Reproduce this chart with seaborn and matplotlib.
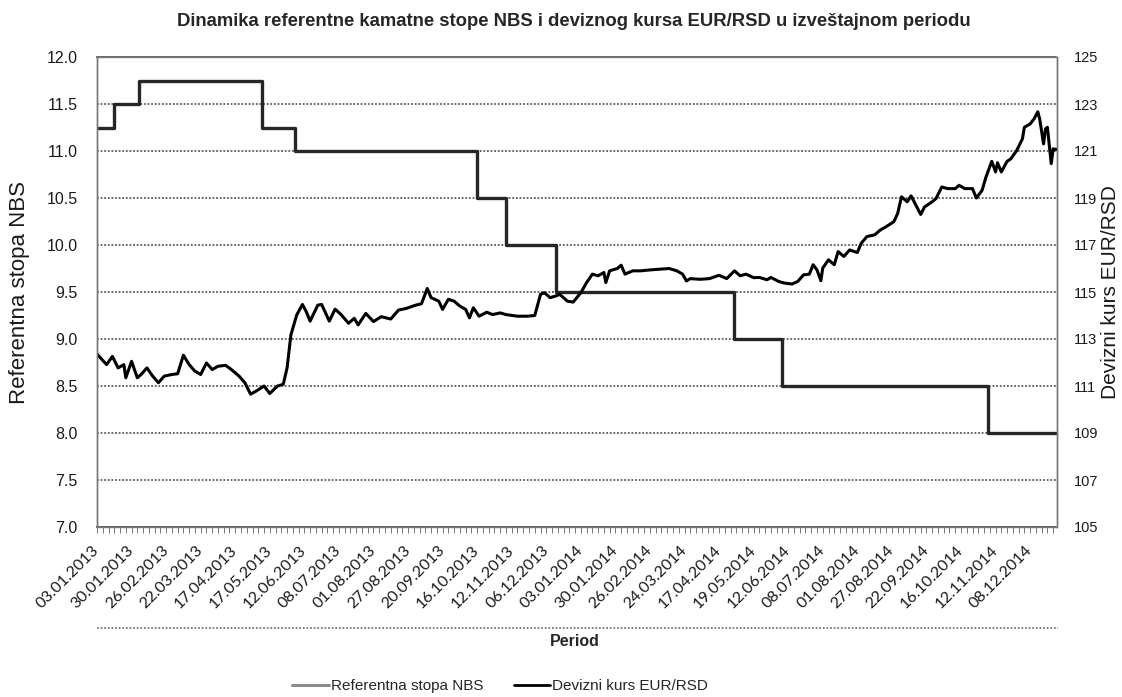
import numpy as np
import pandas as pd
import matplotlib.pyplot as plt
from matplotlib.lines import Line2D
from matplotlib.ticker import FixedLocator, MultipleLocator, FormatStrFormatter
import seaborn as sns

# x axis = trading day number, 0 = 03.01.2013, one label every 18 days
tick_labels = ['03.01.2013', '30.01.2013', '26.02.2013', '22.03.2013', '17.04.2013',
               '17.05.2013', '12.06.2013', '08.07.2013', '01.08.2013', '27.08.2013',
               '20.09.2013', '16.10.2013', '12.11.2013', '06.12.2013', '03.01.2014',
               '30.01.2014', '26.02.2014', '24.03.2014', '17.04.2014', '19.05.2014',
               '12.06.2014', '08.07.2014', '01.08.2014', '27.08.2014', '22.09.2014',
               '16.10.2014', '12.11.2014', '08.12.2014']
tick_days = list(range(0, 18 * len(tick_labels), 18))

# NBS key policy rate (%), value valid from the given trading day
rate_day = [0, 9, 22, 86, 103, 198, 213, 239, 332, 357, 464, 500]
rate_value = [11.25, 11.5, 11.75, 11.25, 11.0, 10.5, 10.0, 9.5, 9.0, 8.5, 8.0, 8.0]

# EUR/RSD exchange rate
fx_day = [0, 5, 8, 11, 14, 15, 18, 21, 23, 26, 29, 32, 35, 39, 42, 45, 48, 51, 54, 57,
          60, 63, 67, 70, 74, 77, 80, 83, 87, 90, 94, 97, 99, 101, 104, 107, 109, 111,
          115, 117, 121, 124, 127, 131, 134, 136, 140, 144, 148, 153, 157, 161, 166,
          169, 172, 174, 178, 180, 183, 186, 189, 192, 194, 196, 199, 203, 206, 210,
          213, 219, 224, 228, 231, 233, 236, 239, 241, 245, 248, 252, 255, 258, 261,
          264, 265, 267, 271, 273, 275, 279, 283, 288, 293, 298, 302, 305, 307, 309,
          314, 319, 324, 328, 332, 335, 338, 342, 345, 349, 351, 355, 358, 362, 365,
          368, 371, 373, 375, 377, 378, 381, 384, 386, 389, 392, 396, 398, 401, 405,
          408, 411, 415, 417, 419, 422, 424, 427, 429, 431, 435, 437, 440, 443, 447,
          449, 452, 456, 458, 461, 463, 466, 468, 469, 471, 474, 476, 479, 482, 483,
          486, 488, 490, 491, 493, 494, 495, 497, 498, 500]
fx_value = [112.36, 111.91, 112.26, 111.77, 111.91, 111.35, 112.05, 111.35, 111.49, 111.77,
            111.42, 111.14, 111.42, 111.49, 111.52, 112.31, 111.91, 111.63, 111.49, 111.98,
            111.70, 111.84, 111.88, 111.70, 111.42, 111.14, 110.65, 110.79, 111.00, 110.68,
            111.00, 111.07, 111.77, 113.18, 114.02, 114.47, 114.16, 113.76, 114.44, 114.47,
            113.76, 114.27, 114.05, 113.67, 113.88, 113.60, 114.09, 113.74, 113.95, 113.85,
            114.23, 114.30, 114.44, 114.50, 115.15, 114.76, 114.61, 114.26, 114.69, 114.61,
            114.40, 114.26, 113.90, 114.33, 113.97, 114.14, 114.04, 114.11, 114.04, 113.97,
            113.97, 114.00, 114.90, 114.97, 114.76, 114.83, 114.90, 114.61, 114.57, 114.97,
            115.40, 115.76, 115.69, 115.83, 115.40, 115.90, 116.00, 116.14, 115.76, 115.90,
            115.90, 115.94, 115.97, 116.00, 115.90, 115.76, 115.47, 115.57, 115.54, 115.57,
            115.71, 115.57, 115.90, 115.69, 115.76, 115.61, 115.62, 115.52, 115.62, 115.45,
            115.38, 115.34, 115.45, 115.73, 115.76, 116.16, 115.94, 115.48, 116.02, 116.37,
            116.16, 116.72, 116.51, 116.79, 116.68, 117.07, 117.36, 117.43, 117.64, 117.78,
            117.99, 118.34, 119.05, 118.84, 119.09, 118.62, 118.30, 118.62, 118.84, 118.98,
            119.47, 119.40, 119.40, 119.54, 119.40, 119.40, 119.00, 119.33, 119.89, 120.56,
            120.11, 120.50, 120.11, 120.56, 120.67, 121.02, 121.52, 122.01, 122.15, 122.36,
            122.67, 122.36, 121.30, 121.94, 122.01, 120.46, 121.09, 121.06]

rate = pd.DataFrame({'day': rate_day, 'rate': rate_value})
fx = pd.DataFrame({'day': fx_day, 'fx': fx_value})

sns.set_style('white')
plt.rcParams['font.family'] = ['Liberation Sans', 'DejaVu Sans']

W, H = 1122, 697
fig = plt.figure(figsize=(W / 100, H / 100), dpi=100)
ax = fig.add_axes([97 / W, (H - 527) / H, 960 / W, 470 / H])
ax2 = ax.twinx()

rate_color = '#262626'
fx_color = '#000000'
grid_color = '#5a5a5a'

sns.lineplot(data=rate, x='day', y='rate', ax=ax, color=rate_color, lw=2.4,
             drawstyle='steps-post', legend=False)
sns.lineplot(data=fx, x='day', y='fx', ax=ax2, color=fx_color, lw=2.2, legend=False)

ax.set_xlim(0, 500)
ax.set_ylim(7, 12)
ax.set_yticks(np.arange(7, 12.01, 0.5))
ax.yaxis.set_major_formatter(FormatStrFormatter('%.1f'))
ax2.set_ylim(105, 125)
ax2.set_yticks(range(105, 126, 2))

ax.yaxis.grid(True, color=grid_color, linestyle=(0, (1, 1)), lw=1.3)
ax.xaxis.grid(False)
ax2.grid(False)
ax.set_axisbelow(True)

for a in (ax, ax2):
    for s in a.spines.values():
        s.set_linestyle((0, (1, 1)))
        s.set_color('#777777')
        s.set_linewidth(1.0)
ax.spines['top'].set_color(grid_color)
ax.spines['top'].set_linewidth(1.3)
ax.spines['bottom'].set_color(grid_color)
ax.spines['bottom'].set_linewidth(1.3)

ax.xaxis.set_major_locator(FixedLocator(tick_days))
ax.xaxis.set_minor_locator(MultipleLocator(3))
ax.set_xticklabels(tick_labels, rotation=45, ha='right', va='center',
                   rotation_mode='anchor', fontsize=11.5, family=['Lato', 'DejaVu Sans'],
                   color='#1a1a1a')
ax.tick_params(axis='x', which='both', bottom=True, direction='out', length=4,
               width=0.7, color='#777777', pad=11)
ax.tick_params(axis='y', length=0, pad=14, labelsize=11.5, labelcolor='#1a1a1a')
ax2.tick_params(axis='y', length=0, pad=12, labelsize=10.5, labelcolor='#1a1a1a')

ax.set_xlabel('')
ax.set_ylabel('Referentna stopa NBS', fontsize=16, color='#1a1a1a', labelpad=12)
ax2.set_ylabel('Devizni kurs EUR/RSD', fontsize=15, color='#1a1a1a', labelpad=2)

fig.text(574 / W, 1 - 22 / H,
         'Dinamika referentne kamatne stope NBS i deviznog kursa EUR/RSD u izveštajnom periodu',
         ha='center', va='center', fontsize=13.3, fontweight='bold',
         family=['Liberation Sans Narrow', 'Liberation Sans', 'DejaVu Sans'])
fig.text(575 / W, 1 - 641 / H, 'Period', ha='center', va='center',
         fontsize=11.5, fontweight='bold')

# dotted frame line under the date labels
fig.add_artist(Line2D([97 / W, 1058 / W], [1 - 628 / H, 1 - 628 / H],
                      transform=fig.transFigure, color='#777777', lw=1.3,
                      linestyle=(0, (1, 1))))

handles = [Line2D([], [], color='#8a8a8a', lw=2.2),
           Line2D([], [], color=fx_color, lw=2.0)]
fig.legend(handles, ['Referentna stopa NBS', 'Devizni kurs EUR/RSD'],
           loc='center', bbox_to_anchor=(500 / W, 1 - 686 / H), ncol=2,
           frameon=False, fontsize=11, handlelength=2.4, handletextpad=0.1,
           columnspacing=2.0)

fig.savefig('out.png', dpi=100)
